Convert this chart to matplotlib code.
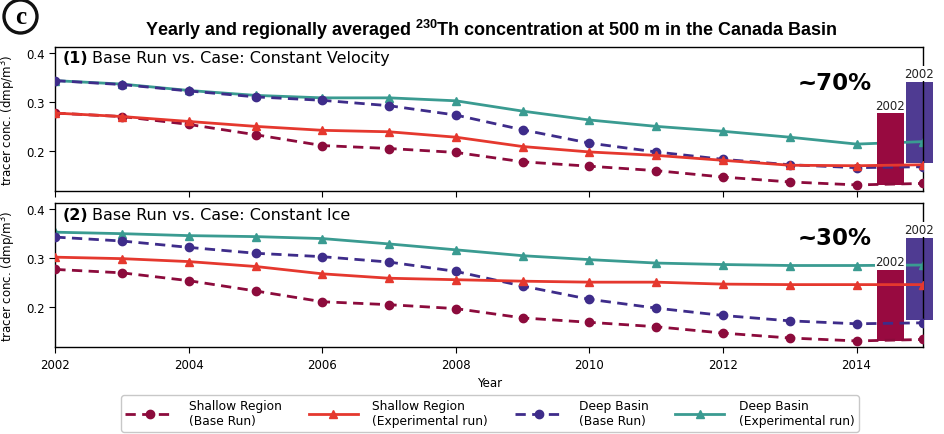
import matplotlib.pyplot as plt
import numpy as np

plt.rcParams['font.family'] = 'DejaVu Sans'
plt.rcParams['mathtext.fontset'] = 'custom'
plt.rcParams['mathtext.bf'] = 'Liberation Sans:bold'
plt.rcParams['mathtext.rm'] = 'DejaVu Sans'

years = np.arange(2002, 2016)

# base run (same in both panels)
shallow_base = [0.277, 0.270, 0.254, 0.233, 0.211, 0.205, 0.197,
                0.178, 0.169, 0.160, 0.147, 0.137, 0.131, 0.134]
deep_base = [0.343, 0.335, 0.322, 0.310, 0.303, 0.292, 0.273,
             0.243, 0.216, 0.198, 0.183, 0.172, 0.166, 0.168]

# case 1: constant velocity
shallow_vel = [0.277, 0.270, 0.260, 0.250, 0.242, 0.239, 0.228,
               0.209, 0.198, 0.191, 0.181, 0.171, 0.170, 0.172]
deep_vel = [0.343, 0.336, 0.323, 0.313, 0.308, 0.308, 0.302,
            0.281, 0.263, 0.250, 0.240, 0.228, 0.214, 0.219]

# case 2: constant ice
shallow_ice = [0.302, 0.299, 0.293, 0.283, 0.268, 0.259, 0.256,
               0.253, 0.251, 0.251, 0.247, 0.246, 0.246, 0.246]
deep_ice = [0.353, 0.350, 0.346, 0.344, 0.340, 0.329, 0.317,
            0.305, 0.297, 0.290, 0.287, 0.285, 0.285, 0.286]

# 2002 -> end bars (shallow, deep) per panel
bar_top = [[0.277, 0.341], [0.276, 0.342]]
bar_bottom = [[0.130, 0.175], [0.131, 0.174]]
bar_x = [2014.505, 2014.94]
bar_text = ["2002", "2002"]

pct_labels = ["~70%", "~30%"]
panel_titles = ["Base Run vs. Case: Constant Velocity", "Base Run vs. Case: Constant Ice"]
panel_nums = ["(1)", "(2)"]

c_sbase = "#8c0b3c"
c_sexp = "#e5382e"
c_dbase = "#3e2c8a"
c_dexp = "#3a9b91"
c_bar_s = "#980a40"
c_bar_d = "#4f3b92"

fig = plt.figure(figsize=(9.45, 4.35), dpi=100)
ax1 = fig.add_axes([55.3/945, 1-192.3/435, 868/945, 144.6/435])
ax2 = fig.add_axes([55.3/945, 1-348.3/435, 868/945, 144/435])

cases = [(shallow_vel, deep_vel), (shallow_ice, deep_ice)]
for p, ax in enumerate([ax1, ax2]):
    s_exp, d_exp = cases[p]
    # purple bar sits under the lines, red bar over the teal line
    ax.bar(bar_x[1], bar_top[p][1]-bar_bottom[p][1], bottom=bar_bottom[p][1], width=0.40,
           color=c_bar_d, zorder=1, clip_on=False)
    ax.plot(years, d_exp, color=c_dexp, lw=2, marker="^", ms=6, zorder=2)
    ax.bar(bar_x[0], bar_top[p][0]-bar_bottom[p][0], bottom=bar_bottom[p][0], width=0.41,
           color=c_bar_s, zorder=2.5, clip_on=False)
    ax.plot(years, shallow_base, color=c_sbase, lw=2, ls="--", dashes=(3.7, 2.3), marker="o", ms=6, zorder=3)
    ax.plot(years, deep_base, color=c_dbase, lw=2, ls="--", dashes=(3.7, 2.3), marker="o", ms=6, zorder=3)
    ax.plot(years, s_exp, color=c_sexp, lw=2, marker="^", ms=6, zorder=3)
    for b in range(2):
        ax.text(bar_x[b], bar_top[p][b]+0.003, bar_text[b], ha="center", va="bottom", fontsize=8.5,
                color="#222222", zorder=4, clip_on=False,
                bbox=dict(facecolor="white", edgecolor="none", pad=0.5))
    ax.text(0.898, 0.71 if p == 0 else 0.72, pct_labels[p], transform=ax.transAxes,
            ha="center", va="baseline", fontsize=16.5, weight="bold")
    ax.text(0.0085, 0.975, panel_nums[p], transform=ax.transAxes, ha="left", va="top",
            fontsize=11.5, weight="bold")
    ax.text(0.042, 0.975, panel_titles[p], transform=ax.transAxes, ha="left", va="top",
            fontsize=11.5)
    ax.set_xlim(2002, 2015)
    ax.set_ylim(0.118, 0.412)
    ax.set_yticks([0.2, 0.3, 0.4])
    ax.set_xticks(np.arange(2002, 2015, 2))
    ax.tick_params(labelsize=8.5, length=4, direction="out")
    ax.set_ylabel("tracer conc. (dmp/m$^3$)", fontsize=8.5, labelpad=6)
    for sp in ax.spines.values():
        sp.set_linewidth(1)

ax1.set_xticklabels([])
ax2.set_xlabel("Year", fontsize=8.5, labelpad=4)

# legend
h1, = ax2.plot([], [], color=c_sbase, lw=2, ls="--", dashes=(3.7, 2.3), marker="o", ms=6)
h2, = ax2.plot([], [], color=c_sexp, lw=2, marker="^", ms=6)
h3, = ax2.plot([], [], color=c_dbase, lw=2, ls="--", dashes=(3.7, 2.3), marker="o", ms=6)
h4, = ax2.plot([], [], color=c_dexp, lw=2, marker="^", ms=6)
leg_labels = ["Shallow Region\n(Base Run)", "Shallow Region\n(Experimental run)",
              "Deep Basin\n(Base Run)", "Deep Basin\n(Experimental run)"]
fig.legend([h1, h2, h3, h4], leg_labels, loc="upper center", bbox_to_anchor=(490/945, 1-390/435),
           ncol=4, fontsize=8.8, handlelength=4, handletextpad=1.2, columnspacing=2.2,
           frameon=True, fancybox=True, edgecolor="#bbbbbb", borderpad=0.35, labelspacing=0.3)

fig.text(491/945, 1-30/435, r"Yearly and regionally averaged $^{\mathbf{230}}$Th concentration at 500 m in the Canada Basin",
         ha="center", va="center", fontsize=13, weight="bold", family="Liberation Sans")

# circled panel letter
fig.text(20.5/945, 1-17.5/435, "c", ha="center", va="center", fontsize=18, weight="bold",
         family="Liberation Serif",
         bbox=dict(boxstyle="circle,pad=0.2", facecolor="white", edgecolor="#111111", lw=2.4))

fig.savefig("out.png", dpi=100)
